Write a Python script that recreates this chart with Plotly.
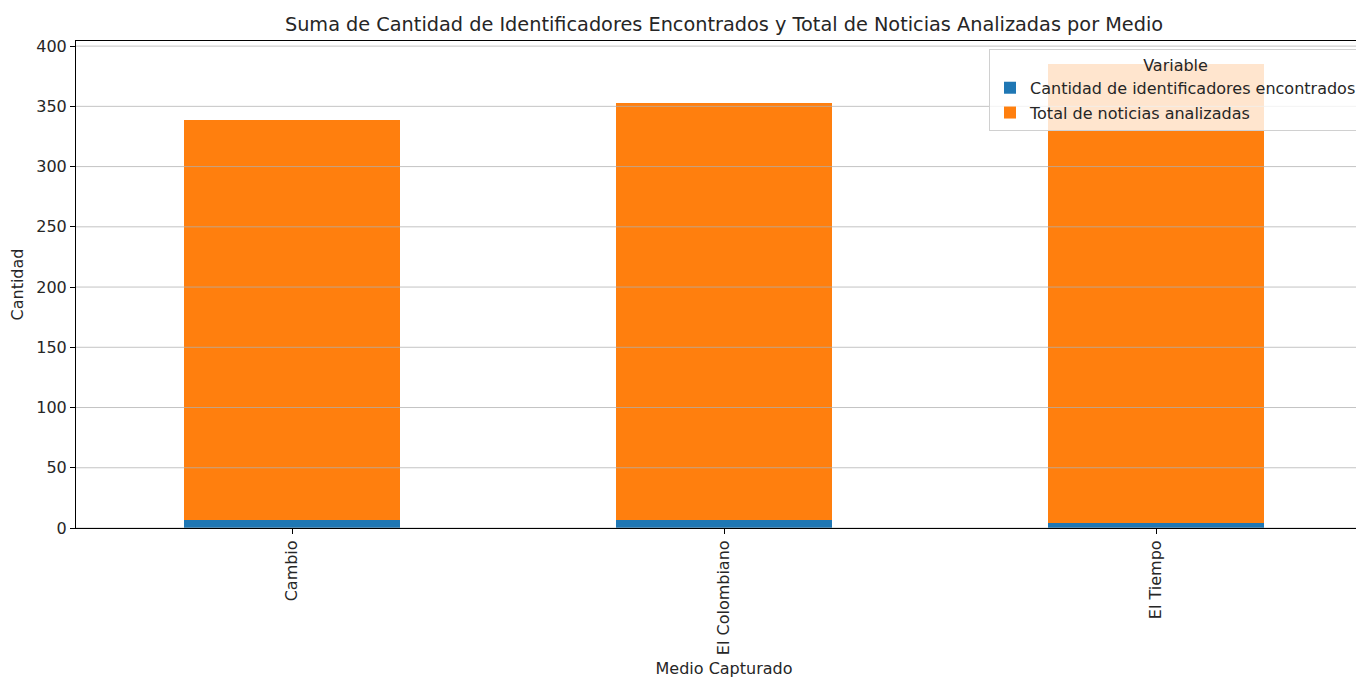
import plotly.graph_objects as go

medios = ["Cambio", "El Colombiano", "El Tiempo"]
identificadores = [7, 7, 4]
noticias = [332, 346, 381]
series_names = ["Cantidad de identificadores encontrados", "Total de noticias analizadas"]
colors = ["#1f77b4", "#ff7f0e"]
y_ticks = [0, 50, 100, 150, 200, 250, 300, 350, 400]

FONT = "DejaVu Sans"
TXT = "#262626"

fig = go.Figure()
for i, (name, vals, col) in enumerate(zip(series_names, [identificadores, noticias], colors)):
    fig.add_trace(go.Bar(x=medios, y=vals, name=name, legendgroup=f"g{i}",
                         marker=dict(color=col, line=dict(width=0)), width=0.5))

ymax = max(a + b for a, b in zip(identificadores, noticias)) * 1.05

# gridlines drawn above bars (as in matplotlib default)
for t in y_ticks:
    fig.add_shape(type="line", xref="paper", x0=0, x1=1, yref="y", y0=t, y1=t,
                  line=dict(color="rgba(176,176,176,0.75)", width=1), layer="above")

fig.update_layout(
    barmode="stack",
    width=1364, height=677,
    margin=dict(l=68, r=0, t=33, b=157),
    paper_bgcolor="white", plot_bgcolor="white",
    font=dict(family=FONT, size=16, color=TXT),
    title=dict(text="Suma de Cantidad de Identificadores Encontrados y Total de Noticias Analizadas por Medio",
               x=0.5, xref="paper", xanchor="center", y=1 - 16 / 677, yanchor="middle",
               font=dict(family=FONT, size=19.3, color=TXT)),
    xaxis=dict(range=[-0.5, 2.5], showgrid=False, showline=True, linecolor="black", linewidth=1,
               mirror=True, ticks="outside", ticklen=5, tickcolor="black", tickangle=-90,
               tickfont=dict(size=16, color=TXT),
               title=dict(text="Medio Capturado", font=dict(size=16, color=TXT), standoff=8)),
    yaxis=dict(range=[0, ymax], tickvals=y_ticks, showgrid=False, zeroline=False, showline=True,
               linecolor="black", linewidth=1, ticks="outside", ticklen=5, tickcolor="black",
               tickfont=dict(size=16, color=TXT),
               title=dict(text="Cantidad", font=dict(size=16, color=TXT), standoff=8)),
    legend=dict(title=dict(text="Variable", side="top center", font=dict(size=16)),
                x=0.9923, xanchor="right", y=0.9835, yanchor="top",
                bgcolor="rgba(255,255,255,0.8)", bordercolor="#d0d0d0", borderwidth=1,
                font=dict(size=16, color=TXT), traceorder="grouped", tracegroupgap=1,
                itemsizing="constant"),
)

fig.write_html("out.html")
